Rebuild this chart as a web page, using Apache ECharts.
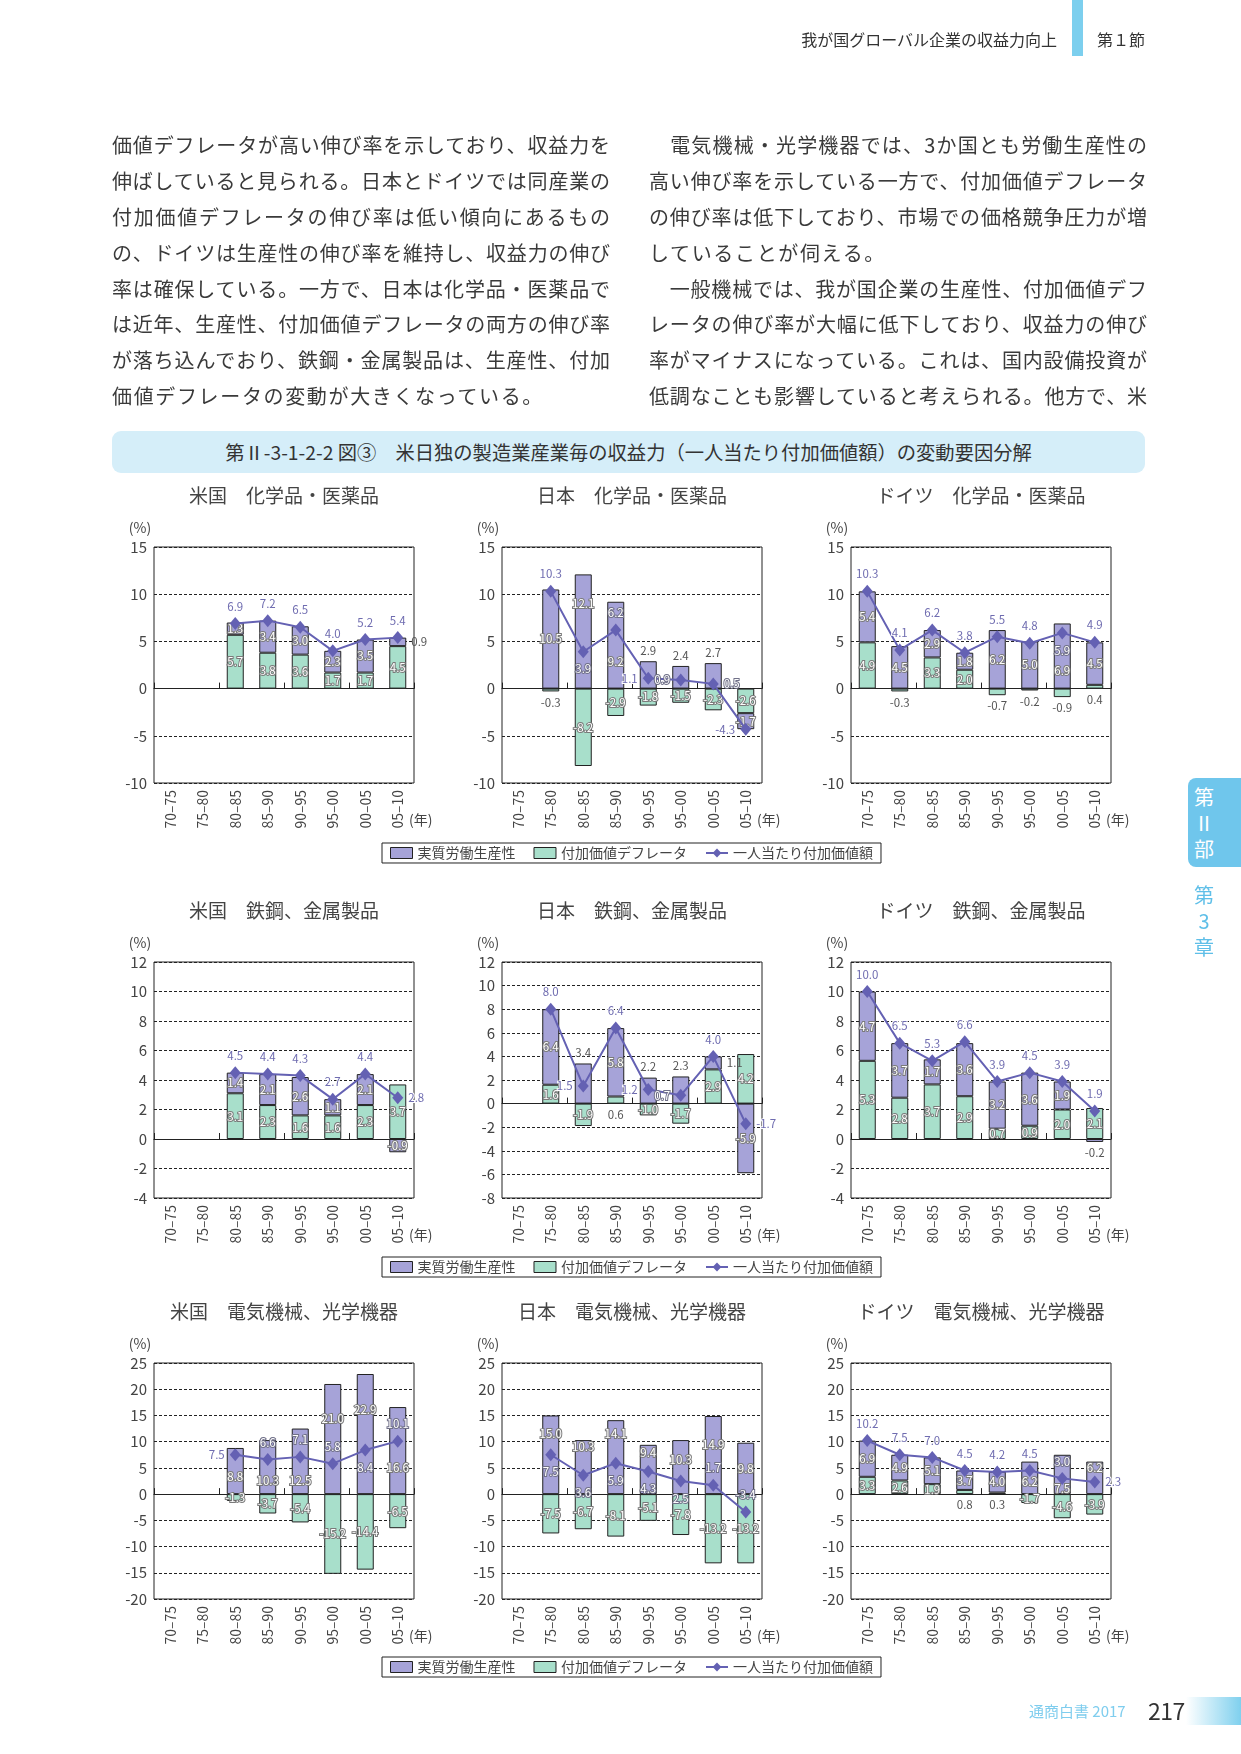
<!DOCTYPE html>
<html lang="ja"><head><meta charset="utf-8">
<script src="https://cdn.jsdelivr.net/npm/echarts@6/dist/echarts.min.js"></script>
<style>
html,body{margin:0;padding:0;background:#fff;}
body{width:1241px;height:1754px;position:relative;overflow:hidden;font-family:"Noto Sans CJK JP",sans-serif;color:#333;}
.abs{position:absolute;white-space:nowrap;}
#chart{position:absolute;left:0;top:0;width:1241px;height:1754px;z-index:1;}
.ln{position:absolute;font-size:20px;line-height:24px;height:24px;color:#3a3a3a;white-space:nowrap;z-index:2;}
.jl{width:498px;text-align:justify;text-align-last:justify;}
.sl{letter-spacing:1.65px;}
</style></head><body>
<div id="chart"></div>

<div class="abs" style="left:1072px;top:0;width:11px;height:56px;background:#7ccfee;z-index:2"></div>
<div class="abs" style="right:184px;top:29px;font-size:16px;line-height:20px;color:#333;z-index:2">我が国グローバル企業の収益力向上</div>
<div class="abs" style="left:1097px;top:29px;font-size:16px;line-height:20px;color:#333;z-index:2">第１節</div>

<div class="ln jl" style="left:112px;top:133px">価値デフレータが高い伸び率を示しており、収益力を</div>
<div class="ln jl" style="left:112px;top:169px">伸ばしていると見られる。日本とドイツでは同産業の</div>
<div class="ln jl" style="left:112px;top:205px">付加価値デフレータの伸び率は低い傾向にあるもの</div>
<div class="ln jl" style="left:112px;top:241px">の、ドイツは生産性の伸び率を維持し、収益力の伸び</div>
<div class="ln jl" style="left:112px;top:277px">率は確保している。一方で、日本は化学品・医薬品で</div>
<div class="ln jl" style="left:112px;top:312px">は近年、生産性、付加価値デフレータの両方の伸び率</div>
<div class="ln jl" style="left:112px;top:348px">が落ち込んでおり、鉄鋼・金属製品は、生産性、付加</div>
<div class="ln sl" style="left:112px;top:384px">価値デフレータの変動が大きくなっている。</div>

<div class="ln jl" style="left:649px;top:133px">　電気機械・光学機器では、3か国とも労働生産性の</div>
<div class="ln jl" style="left:649px;top:169px">高い伸び率を示している一方で、付加価値デフレータ</div>
<div class="ln jl" style="left:649px;top:205px">の伸び率は低下しており、市場での価格競争圧力が増</div>
<div class="ln sl" style="left:649px;top:241px">していることが伺える。</div>
<div class="ln jl" style="left:649px;top:277px">　一般機械では、我が国企業の生産性、付加価値デフ</div>
<div class="ln jl" style="left:649px;top:312px">レータの伸び率が大幅に低下しており、収益力の伸び</div>
<div class="ln jl" style="left:649px;top:348px">率がマイナスになっている。これは、国内設備投資が</div>
<div class="ln jl" style="left:649px;top:384px">低調なことも影響していると考えられる。他方で、米</div>

<div class="abs" style="left:112px;top:431px;width:1033px;height:42px;background:#d5eef9;border-radius:9px;text-align:center;font-size:19.3px;line-height:42px;color:#333;z-index:2">第Ⅱ-3-1-2-2 図③　米日独の製造業産業毎の収益力（一人当たり付加価値額）の変動要因分解</div>

<div class="abs" style="left:1188px;top:778px;width:53px;height:89px;background:#6fc6ec;border-radius:8px 0 0 8px;z-index:2"></div>
<div class="abs" style="left:1192px;top:784px;width:24px;text-align:center;font-size:20px;line-height:26px;color:#fff;white-space:normal;z-index:3">第<br>Ⅱ<br>部</div>
<div class="abs" style="left:1192px;top:882px;width:24px;text-align:center;font-size:20px;line-height:26px;color:#5fbfe8;white-space:normal;z-index:3">第<br>3<br>章</div>

<div class="abs" style="left:1029px;top:1701px;font-size:15px;line-height:20px;color:#7fcdee;z-index:2">通商白書 2017</div>
<div class="abs" style="left:1186px;top:1697px;width:55px;height:28px;background:linear-gradient(to right,#ffffff,#7fd0ee);z-index:2"></div>
<div class="abs" style="left:1148px;top:1696px;font-size:23px;line-height:28px;letter-spacing:-0.5px;color:#333;z-index:3">217</div>

<script>
const FONT = '"Noto Sans CJK JP", sans-serif';
const categories = ['70–75','75–80','80–85','85–90','90–95','95–00','00–05','05–10'];
const seriesNames = ['実質労働生産性','付加価値デフレータ','一人当たり付加価値額'];

// y-axis ranges [min, max, interval]
const yRangeChem = [-10, 15, 5];
const yRangeUsDeSteel = [-4, 12, 2];
const yRangeJpSteel = [-8, 12, 2];
const yRangeElec = [-20, 25, 5];

// 米国 化学品・医薬品
const usChemProd  = [null, null, 1.3, 3.4, 3.0, 2.3, 3.5, 0.9];
const usChemDefl  = [null, null, 5.7, 3.8, 3.6, 1.7, 1.7, 4.5];
const usChemTotal = [null, null, 6.9, 7.2, 6.5, 4.0, 5.2, 5.4];
// 日本 化学品・医薬品
const jpChemProd  = [null, 10.5, 12.1, 9.2, 2.9, 2.4, 2.7, -1.7];
const jpChemDefl  = [null, -0.3, -8.2, -2.9, -1.8, -1.5, -2.3, -2.6];
const jpChemTotal = [null, 10.3, 3.9, 6.2, 1.1, 0.9, 0.5, -4.3];
// ドイツ 化学品・医薬品
const deChemProd  = [5.4, 4.5, 2.9, 1.8, 6.2, 5.0, 6.9, 4.5];
const deChemDefl  = [4.9, -0.3, 3.3, 2.0, -0.7, -0.2, -0.9, 0.4];
const deChemTotal = [10.3, 4.1, 6.2, 3.8, 5.5, 4.8, 5.9, 4.9];
// 米国 鉄鋼、金属製品
const usSteelProd  = [null, null, 1.4, 2.1, 2.6, 1.1, 2.1, -0.9];
const usSteelDefl  = [null, null, 3.1, 2.3, 1.6, 1.6, 2.3, 3.7];
const usSteelTotal = [null, null, 4.5, 4.4, 4.3, 2.7, 4.4, 2.8];
// 日本 鉄鋼、金属製品
const jpSteelProd  = [null, 6.4, 3.4, 5.8, 2.2, 2.3, 1.1, -5.9];
const jpSteelDefl  = [null, 1.6, -1.9, 0.6, -1.0, -1.7, 2.9, 4.2];
const jpSteelTotal = [null, 8.0, 1.5, 6.4, 1.2, 0.7, 4.0, -1.7];
// ドイツ 鉄鋼、金属製品
const deSteelProd  = [4.7, 3.7, 1.7, 3.6, 3.2, 3.6, 1.9, -0.2];
const deSteelDefl  = [5.3, 2.8, 3.7, 2.9, 0.7, 0.9, 2.0, 2.1];
const deSteelTotal = [10.0, 6.5, 5.3, 6.6, 3.9, 4.5, 3.9, 1.9];
// 米国 電気機械、光学機器
const usElecProd  = [null, null, 8.8, 10.3, 12.5, 21.0, 22.9, 16.6];
const usElecDefl  = [null, null, -1.3, -3.7, -5.4, -15.2, -14.4, -6.5];
const usElecTotal = [null, null, 7.5, 6.6, 7.1, 5.8, 8.4, 10.1];
// 日本 電気機械、光学機器
const jpElecProd  = [null, 15.0, 10.3, 14.1, 9.4, 10.3, 14.9, 9.8];
const jpElecDefl  = [null, -7.5, -6.7, -8.1, -5.1, -7.8, -13.2, -13.2];
const jpElecTotal = [null, 7.5, 3.6, 5.9, 4.3, 2.5, 1.7, -3.4];
// ドイツ 電気機械、光学機器
const deElecProd  = [6.9, 4.9, 5.1, 3.7, 4.0, 6.2, 7.5, 6.2];
const deElecDefl  = [3.3, 2.6, 1.9, 0.8, 0.3, -1.7, -4.6, -3.9];
const deElecTotal = [10.2, 7.5, 7.0, 4.5, 4.2, 4.5, 3.0, 2.3];

// label placement styles (in=inside, it=insideTop, t/b/l/r=outside; ':n' = vertical offset px;
// uppercase line codes = white label)
const panels = [
  {title:'米国　化学品・医薬品', prod:usChemProd, defl:usChemDefl, total:usChemTotal, y:yRangeChem,
   pPos:['','','in','in','in','in','in','r'], dPos:['','','in','in','in','in','in','in'], lPos:['','','t','t','t','t','t','t']},
  {title:'日本　化学品・医薬品', prod:jpChemProd, defl:jpChemDefl, total:jpChemTotal, y:yRangeChem,
   pPos:['','in','in:-28','in:16','t','t','t','in'], dPos:['','b','in','in','in','in','in','in'], lPos:['','t','B','T','l','L','R','l']},
  {title:'ドイツ　化学品・医薬品', prod:deChemProd, defl:deChemDefl, total:deChemTotal, y:yRangeChem,
   pPos:['in','in','in','in','in','in','in:15','in'], dPos:['in','b','in','in','b','b','b','b'], lPos:['t','t','t','t','t','t','B','t']},
  {title:'米国　鉄鋼、金属製品', prod:usSteelProd, defl:usSteelDefl, total:usSteelTotal, y:yRangeUsDeSteel,
   pPos:['','','in','in','in','in','in','in'], dPos:['','','in','in','in','in','in','in'], lPos:['','','t','t','t','t','t','r']},
  {title:'日本　鉄鋼、金属製品', prod:jpSteelProd, defl:jpSteelDefl, total:jpSteelTotal, y:yRangeJpSteel,
   pPos:['','in','t','in','t','t','r','in'], dPos:['','in','in','b','in','in','in','in'], lPos:['','t','l','t','l','L','t','r']},
  {title:'ドイツ　鉄鋼、金属製品', prod:deSteelProd, defl:deSteelDefl, total:deSteelTotal, y:yRangeUsDeSteel,
   pPos:['in','in','in','in','in','in','in','b'], dPos:['in','in','in','in','in','in','in','in'], lPos:['t','t','t','t','t','t','t','t']},
  {title:'米国　電気機械、光学機器', prod:usElecProd, defl:usElecDefl, total:usElecTotal, y:yRangeElec,
   pPos:['','','in:6','in:14','in:19','in:-20','in:-24','in:17'], dPos:['','','in','in','in','in','in','in'], lPos:['','','l','T','T','T','B','T']},
  {title:'日本　電気機械、光学機器', prod:jpElecProd, defl:jpElecDefl, total:jpElecTotal, y:yRangeElec,
   pPos:['','in:-21','in:-20','in:-24','in:-17','in:-7','in:-10','in'], dPos:['','in','in','in','in','in','in','in'], lPos:['','B','B','B','B','B','T','T']},
  {title:'ドイツ　電気機械、光学機器', prod:deElecProd, defl:deElecDefl, total:deElecTotal, y:yRangeElec,
   pPos:['in','in','in','in','in','in:4','in:14','in:-10'], dPos:['in','in','in','b','b','in','in','in'], lPos:['t','t','t','t','t','t','T','r']}
];

const colLeft = [154, 502, 851];
const rowTop = [547, 962, 1363];
const legendTop = [843, 1257, 1657];
const plotW = 260, plotH = 236;
const COL = {prod:'#a6a3d8', defl:'#a8dfcb', line:'#6461b3', frame:'#222'};

function lab(code, kind) {
  if (!code) return {show:false};
  const parts = code.split(':');
  const p = parts[0];
  const key = p.toLowerCase();
  const map = {in:'inside', it:'insideTop', ib:'insideBottom', t:'top', b:'bottom', l:'left', r:'right'};
  const o = {show:true, position:map[key], fontSize:11.5, fontFamily:FONT,
             formatter: q => Number(q.value).toFixed(1)};
  if (parts[1]) o.offset = [0, Number(parts[1])];
  if (kind === 'line') {
    if (p !== key) Object.assign(o, {color:'#fff', textBorderColor:'#707088', textBorderWidth:2});
    else Object.assign(o, {color:'#6f6cb0', textBorderColor:'#fff', textBorderWidth:2});
  } else if (key.charAt(0) === 'i') {
    Object.assign(o, {color:'#fff', textBorderColor:'#7a7a7a', textBorderWidth:2});
  } else {
    Object.assign(o, {color:'#555'});
  }
  return o;
}
function barData(vals, pos) {
  return vals.map((v, i) => v == null ? '-' : {value:v, label:lab(pos[i], 'bar')});
}
function lineData(vals, pos) {
  return vals.map((v, i) => v == null ? '-' : {value:v, label:lab(pos[i], 'line')});
}

const grid = [], xAxis = [], yAxis = [], series = [], graphic = [];
panels.forEach((pn, k) => {
  const r = Math.floor(k / 3), c = k % 3;
  const left = colLeft[c], top = rowTop[r];
  grid.push({left, top, width:plotW, height:plotH, show:true, borderColor:COL.frame, borderWidth:1,
             backgroundColor:'transparent', containLabel:false, outerBoundsMode:'none'});
  xAxis.push({type:'category', gridIndex:k, data:categories, position:'bottom',
    axisLine:{show:false, onZero:false}, axisTick:{show:false}, splitLine:{show:false},
    axisLabel:{interval:0, rotate:90, margin:7, fontSize:14, color:'#444', fontFamily:FONT}});
  xAxis.push({type:'category', gridIndex:k, data:categories, position:'bottom',
    axisLine:{show:true, onZero:true, lineStyle:{color:COL.frame, width:1.2}},
    axisTick:{show:true, inside:true, length:6, lineStyle:{color:COL.frame}},
    axisLabel:{show:false}, splitLine:{show:false}});
  yAxis.push({type:'value', gridIndex:k, min:pn.y[0], max:pn.y[1], interval:pn.y[2],
    axisLine:{show:false}, axisTick:{show:false},
    axisLabel:{fontSize:15, color:'#444', margin:7, fontFamily:FONT},
    splitLine:{show:true, lineStyle:{color:'#222', type:[3,2], width:1}}});
  series.push({type:'bar', name:seriesNames[1], xAxisIndex:2*k, yAxisIndex:k, stack:'s'+k, barWidth:17,
    itemStyle:{color:COL.defl, borderColor:COL.frame, borderWidth:1}, data:barData(pn.defl, pn.dPos), z:2});
  series.push({type:'bar', name:seriesNames[0], xAxisIndex:2*k, yAxisIndex:k, stack:'s'+k, barWidth:17,
    itemStyle:{color:COL.prod, borderColor:COL.frame, borderWidth:1}, data:barData(pn.prod, pn.pPos), z:2});
  series.push({type:'line', name:seriesNames[2], xAxisIndex:2*k, yAxisIndex:k,
    symbol:'diamond', symbolSize:[11,13], lineStyle:{color:COL.line, width:2}, itemStyle:{color:COL.line},
    data:lineData(pn.total, pn.lPos), z:5});
  graphic.push({type:'text', x:left + plotW/2, y:top - 51,
    style:{text:pn.title, fill:'#444', font:'19px ' + FONT, align:'center', verticalAlign:'middle'}});
  graphic.push({type:'text', x:left - 14, y:top - 19,
    style:{text:'(%)', fill:'#444', font:'14px ' + FONT, align:'center', verticalAlign:'middle'}});
  graphic.push({type:'text', x:left + plotW - 5, y:top + plotH + 37,
    style:{text:'(年)', fill:'#444', font:'14px ' + FONT, align:'left', verticalAlign:'middle'}});
});

const legend = legendTop.map(t => ({
  left:382, top:t, orient:'horizontal', selectedMode:false,
  borderColor:'#222', borderWidth:1, padding:[3,8], itemGap:18, itemWidth:22, itemHeight:11,
  textStyle:{fontSize:14, color:'#444', fontFamily:FONT},
  data:[
    {name:seriesNames[0], icon:'rect', itemStyle:{borderColor:'#222', borderWidth:1}},
    {name:seriesNames[1], icon:'rect', itemStyle:{borderColor:'#222', borderWidth:1}},
    {name:seriesNames[2]}
  ]
}));

const chart = echarts.init(document.getElementById('chart'), null, {renderer:'canvas'});
chart.setOption({
  animation:false,
  backgroundColor:'transparent',
  textStyle:{fontFamily:FONT},
  grid, xAxis, yAxis, series, legend, graphic
});
</script>
</body></html>
